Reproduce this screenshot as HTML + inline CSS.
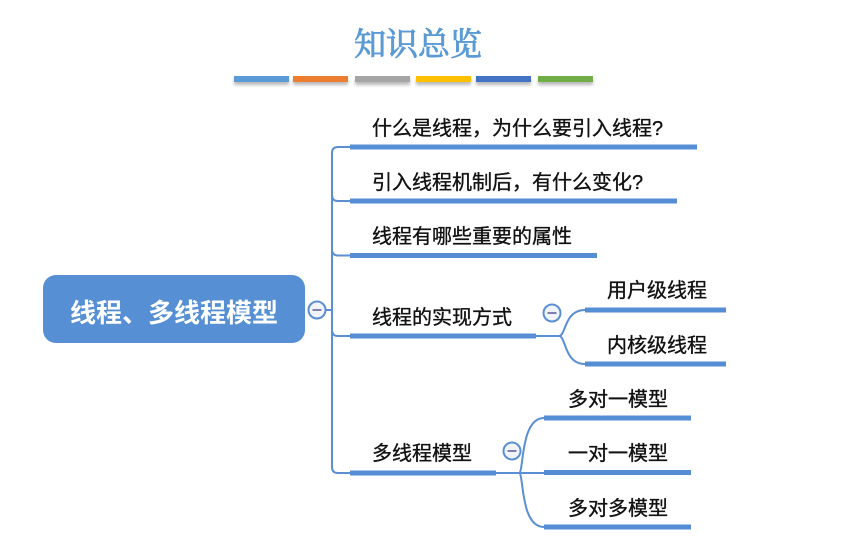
<!DOCTYPE html>
<html><head><meta charset="utf-8">
<style>
html,body{margin:0;padding:0;background:#fff;}
body{width:847px;height:560px;position:relative;overflow:hidden;}
.bar{position:absolute;top:76px;height:6px;box-shadow:0 3px 3px rgba(0,0,0,0.28);}
svg{position:absolute;left:0;top:0;}
.t{font-family:"Liberation Sans","Noto Sans CJK SC",sans-serif;font-size:20px;fill:#111;stroke:#111;stroke-width:0.35;}
</style></head><body>
<div class="bar" style="left:234px;width:55px;background:#5B9BD5"></div>
<div class="bar" style="left:293px;width:55px;background:#ED7D31"></div>
<div class="bar" style="left:355px;width:55px;background:#A5A5A5"></div>
<div class="bar" style="left:416px;width:55px;background:#FFC000"></div>
<div class="bar" style="left:476px;width:55px;background:#4472C4"></div>
<div class="bar" style="left:538px;width:55px;background:#70AD47"></div>
<svg width="847" height="560" viewBox="0 0 847 560">
<text x="418" y="55" text-anchor="middle" font-family="'Liberation Serif','Noto Serif CJK SC',serif" font-size="32" fill="#5B9BD5" stroke="#5B9BD5" stroke-width="0.9">知识总览</text>

<rect x="43" y="275" width="262" height="68" rx="13" fill="#568FD3"/>
<text x="174" y="322" text-anchor="middle" font-family="'Liberation Sans','Noto Sans CJK SC',sans-serif" font-size="26" font-weight="bold" fill="#fff">线程、多线程模型</text>

<g fill="none" stroke="#5B8FD3" stroke-width="2">
<path d="M326,310 H332"/>
<path d="M350,147 H338 Q332,147 332,153 V467 Q332,473 338,473 H350"/>
<path d="M332,195 Q332,201 338,201 H350"/>
<path d="M332,249 Q332,255.5 338,255.5 H350"/>
<path d="M332,330 Q332,336 338,336 H350"/>
<path d="M536,336 H559"/>
<path d="M559,336 C566,336 564,310 585,310"/>
<path d="M559,336 C566,336 564,364 585,364"/>
<path d="M496,473 H519"/>
<path d="M519,473 C524,473 520,418 544,418"/>
<path d="M519,473 H544"/>
<path d="M519,473 C524,473 520,527 544,527"/>
</g>

<g stroke="#558ED5" stroke-width="5">
<line x1="350" y1="147" x2="697" y2="147"/>
<line x1="350" y1="201" x2="677" y2="201"/>
<line x1="350" y1="255.5" x2="597" y2="255.5"/>
<line x1="350" y1="336" x2="536" y2="336"/>
<line x1="350" y1="473" x2="496" y2="473"/>
<line x1="585" y1="310" x2="726" y2="310"/>
<line x1="585" y1="364" x2="726" y2="364"/>
<line x1="544" y1="418" x2="691" y2="418"/>
<line x1="544" y1="472.5" x2="691" y2="472.5"/>
<line x1="544" y1="527" x2="691" y2="527"/>
</g>

<g stroke="#5B8FD3" stroke-width="2" fill="#F2F4FB">
<circle cx="317" cy="310" r="8.5"/>
<circle cx="552" cy="313" r="8.5"/>
<circle cx="512" cy="451" r="8.5"/>
</g>
<g stroke="#7F7FB0" stroke-width="2">
<line x1="312.5" y1="310" x2="321.5" y2="310"/>
<line x1="547.5" y1="313" x2="556.5" y2="313"/>
<line x1="507.5" y1="451" x2="516.5" y2="451"/>
</g>

<text class="t" x="372" y="135">什么是线程，为什么要引入线程?</text>
<text class="t" x="372" y="189">引入线程机制后，有什么变化?</text>
<text class="t" x="372" y="243">线程有哪些重要的属性</text>
<text class="t" x="372" y="324">线程的实现方式</text>
<text class="t" x="372" y="460">多线程模型</text>
<text class="t" x="607" y="297">用户级线程</text>
<text class="t" x="607" y="352">内核级线程</text>
<text class="t" x="568" y="406">多对一模型</text>
<text class="t" x="568" y="460">一对一模型</text>
<text class="t" x="568" y="515">多对多模型</text>
</svg>
</body></html>
